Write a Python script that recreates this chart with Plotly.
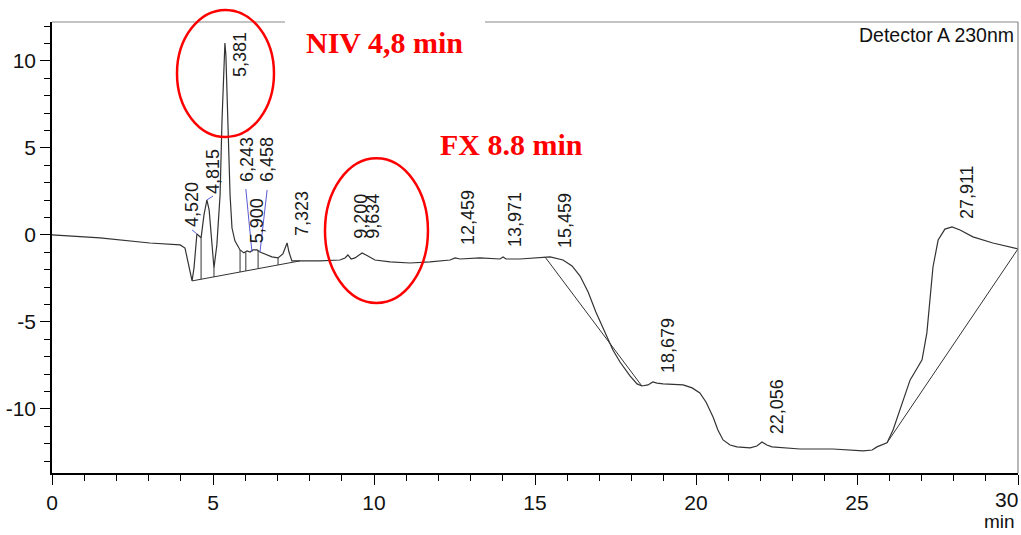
import plotly.graph_objects as go

# ---------------- data ----------------
time_min = [
    0.00, 1.49, 3.04, 3.98, 4.13, 4.22, 4.35, 4.41, 4.50, 4.57,
    4.63, 4.72, 4.81, 4.88, 4.94, 5.03, 5.12, 5.22, 5.28, 5.34,
    5.37, 5.40, 5.47, 5.53, 5.59, 5.68, 5.84, 5.96, 6.06, 6.15,
    6.24, 6.37, 6.46, 6.61, 6.83, 7.02, 7.17, 7.30, 7.36, 7.45,
    7.70, 8.32, 8.94, 9.10, 9.19, 9.29, 9.41, 9.63, 9.81, 10.03,
    10.50, 11.12, 11.74, 12.36, 12.52, 12.67, 13.29, 13.91, 14.01, 14.10,
    14.53, 15.16, 15.47, 15.87, 16.15, 16.40, 16.65, 16.89, 17.17, 17.42,
    17.64, 17.95, 18.17, 18.32, 18.51, 18.66, 18.79, 18.98, 19.60, 19.88,
    20.12, 20.31, 20.53, 20.68, 20.84, 21.06, 21.27, 21.68, 21.89, 22.05,
    22.20, 22.36, 23.23, 24.25, 25.19, 25.47, 25.62, 25.93, 26.12, 26.43,
    26.65, 26.89, 27.02, 27.17, 27.27, 27.36, 27.52, 27.73, 27.95, 28.20,
    28.60, 29.22, 30.00,
]
signal_mau = [
    0.00, -0.17, -0.46, -0.57, -0.75, -1.55, -2.64, -1.90, 0.06, -0.06,
    -0.17, 1.15, 2.01, 1.44, 0.00, -1.90, -0.57, 2.30, 6.61, 10.34,
    11.03, 10.34, 6.03, 2.30, 0.40, -0.34, -0.86, -1.03, -0.92, -0.98,
    -0.86, -0.86, -0.98, -1.09, -1.26, -1.32, -1.09, -0.46, -0.98, -1.49,
    -1.49, -1.49, -1.44, -1.32, -1.15, -1.38, -1.32, -1.03, -1.21, -1.44,
    -1.55, -1.61, -1.55, -1.44, -1.32, -1.38, -1.32, -1.38, -1.26, -1.38,
    -1.38, -1.32, -1.26, -1.44, -1.78, -2.36, -3.28, -4.43, -5.63, -6.61,
    -7.30, -8.10, -8.56, -8.68, -8.62, -8.45, -8.51, -8.56, -8.62, -8.79,
    -9.08, -9.60, -10.46, -11.21, -11.78, -12.07, -12.18, -12.24, -12.13, -11.90,
    -12.07, -12.18, -12.30, -12.30, -12.41, -12.36, -12.18, -11.95, -11.21, -9.48,
    -8.33, -7.59, -7.18, -5.63, -3.74, -1.84, -0.29, 0.34, 0.46, 0.29,
    -0.11, -0.46, -0.80,
]
assert len(time_min) == len(signal_mau)

# integration baselines (start/end time, start/end signal)
baseline_t = [[4.35, 7.70], [15.31, 18.32], [25.93, 30.00]]
baseline_v = [[-2.64, -1.49], [-1.26, -8.68], [-11.95, -0.80]]

# peak drop lines
drop_t = [4.63, 5.03, 5.84, 6.02, 6.40, 7.02]
drop_top = [-0.17, -1.90, -0.86, -1.00, -0.90, -1.32]
drop_bottom = [-2.54, -2.41, -2.13, -2.07, -1.94, -1.72]

# blue label leader lines
leader_t = [[4.35, 4.50], [4.81, 5.00], [6.02, 6.21], [6.68, 6.46]]
leader_v = [[0.29, 0.06], [2.01, 2.24], [2.64, -0.98], [2.59, -0.98]]

# peak retention-time labels
peak_labels = ["4,520", "4,815", "5,381", "6,243", "6,458", "5,900", "7,323",
               "9,200", "9,634", "12,459", "13,971", "15,459", "18,679",
               "22,056", "27,911"]
label_t = [4.35, 5.00, 5.84, 6.06, 6.68, 6.37, 7.76,
           9.60, 9.97, 12.92, 14.38, 15.93, 19.13, 22.52, 28.42]
label_v = [1.72, 3.62, 10.34, 4.31, 4.31, 0.80, 1.26,
           1.05, 1.05, 0.98, 0.86, 0.86, -6.32, -9.89, 2.47]

x_ticks = [0, 5, 10, 15, 20, 25, 30]
x_ticktext = ["0", "5", "10", "15", "20", "25", ""]   # "30" drawn as a note below
y_ticks = [-10, -5, 0, 5, 10]

# ---------------- figure ----------------
LINE = "#333333"
fig = go.Figure()
fig.add_trace(go.Scatter(x=time_min, y=signal_mau, mode="lines",
                         line=dict(color=LINE, width=1.2), hoverinfo="skip"))

bx, by = [], []
for t, v in zip(baseline_t, baseline_v):
    bx += t + [None]
    by += v + [None]
fig.add_trace(go.Scatter(x=bx, y=by, mode="lines",
                         line=dict(color=LINE, width=1), hoverinfo="skip"))

dx, dy = [], []
for t, a, b in zip(drop_t, drop_top, drop_bottom):
    dx += [t, t, None]
    dy += [a, b, None]
fig.add_trace(go.Scatter(x=dx, y=dy, mode="lines",
                         line=dict(color=LINE, width=1), hoverinfo="skip"))

lx, ly = [], []
for t, v in zip(leader_t, leader_v):
    lx += t + [None]
    ly += v + [None]
fig.add_trace(go.Scatter(x=lx, y=ly, mode="lines",
                         line=dict(color="#5a5ad6", width=1), hoverinfo="skip"))

annotations = []
for txt, t, v in zip(peak_labels, label_t, label_v):
    annotations.append(dict(x=t, y=v, xref="x", yref="y", text=txt, textangle=-90,
                            showarrow=False, xanchor="center", yanchor="middle",
                            font=dict(family="Liberation Sans", size=18, color="#1a1a1a")))

annotations += [
    dict(x=0.3437, y=0.955, xref="paper", yref="paper", text="<b>NIV 4,8 min</b>",
         showarrow=False, xanchor="center", yanchor="middle",
         font=dict(family="Liberation Serif", size=30, color="#ff0000")),
    dict(x=0.476, y=0.728, xref="paper", yref="paper", text="<b>FX 8.8 min</b>",
         showarrow=False, xanchor="center", yanchor="middle",
         font=dict(family="Liberation Serif", size=30, color="#ff0000")),
    dict(x=0.998, y=0.971, xref="paper", yref="paper", text="Detector A 230nm",
         showarrow=False, xanchor="right", yanchor="middle",
         font=dict(family="Liberation Sans", size=19.5, color="#111111")),
    dict(x=1.002, y=-0.058, xref="paper", yref="paper", text="30",
         showarrow=False, xanchor="right", yanchor="middle", xshift=0,
         font=dict(family="Liberation Sans", size=21, color="#111111")),
    dict(x=0.999, y=-0.108, xref="paper", yref="paper", text="min",
         showarrow=False, xanchor="right", yanchor="middle",
         font=dict(family="Liberation Sans", size=19, color="#111111")),
]

shapes = [
    # top frame with the gap, right frame
    dict(type="line", xref="paper", yref="paper", x0=0, x1=0.2412, y0=1, y1=1,
         line=dict(color="#888888", width=1.2)),
    dict(type="line", xref="paper", yref="paper", x0=0.4482, x1=1, y0=1, y1=1,
         line=dict(color="#888888", width=1.2)),
    dict(type="line", xref="paper", yref="paper", x0=1, x1=1, y0=0, y1=1,
         line=dict(color="#888888", width=1.2)),
    # red ellipses
    dict(type="circle", xref="paper", yref="paper", x0=0.1294, x1=0.2298,
         y0=0.745, y1=1.0266, line=dict(color="#ff0000", width=2.5)),
    dict(type="circle", xref="paper", yref="paper", x0=0.2826, x1=0.3892,
         y0=0.377, y1=0.698, line=dict(color="#ff0000", width=2.5)),
]

axis_common = dict(showgrid=False, zeroline=False, showline=True, linecolor="black",
                   linewidth=1.5, ticks="outside", ticklen=10, tickwidth=1.2,
                   tickcolor="black", automargin=False,
                   tickfont=dict(family="Liberation Sans", size=21, color="#111111"),
                   minor=dict(dtick=1, ticks="outside", ticklen=6, tickwidth=1,
                              tickcolor="black"))

fig.update_layout(
    width=1021, height=535,
    margin=dict(l=52, r=3, t=22, b=62, autoexpand=False),
    paper_bgcolor="white", plot_bgcolor="white",
    showlegend=False,
    xaxis=dict(range=[0, 30], tickmode="array", tickvals=x_ticks,
               ticktext=x_ticktext, **axis_common),
    yaxis=dict(range=[-13.68, 12.24], tickmode="array", tickvals=y_ticks,
               ticktext=[str(v) for v in y_ticks], **axis_common),
    annotations=annotations,
    shapes=shapes,
)

fig.write_html("out.html")
